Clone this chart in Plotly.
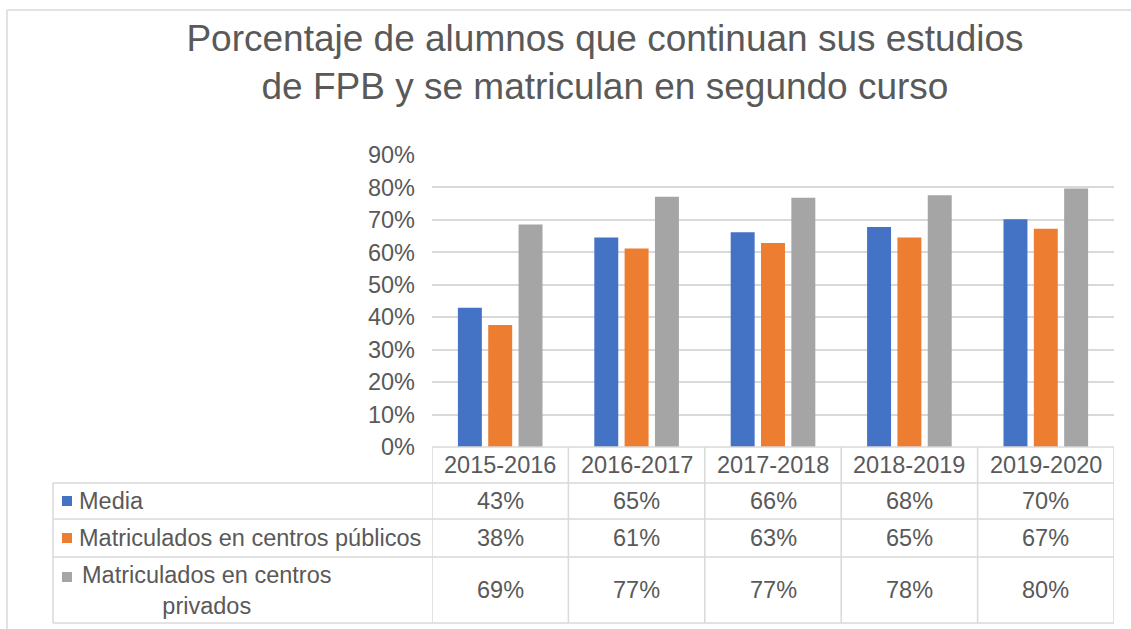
import plotly.graph_objects as go

# ---- data ----
categories = ["2015-2016", "2016-2017", "2017-2018", "2018-2019", "2019-2020"]
series_names = ["Media", "Matriculados en centros públicos", "Matriculados en centros privados"]
media = [0.429, 0.646, 0.662, 0.678, 0.702]
publicos = [0.376, 0.612, 0.629, 0.646, 0.673]
privados = [0.686, 0.771, 0.768, 0.776, 0.797]
series_values = [media, publicos, privados]
colors = ["#4472C4", "#ED7D31", "#A5A5A5"]
y_ticks = [0, 0.1, 0.2, 0.3, 0.4, 0.5, 0.6, 0.7, 0.8, 0.9]
title_lines = ["Porcentaje de alumnos que continuan sus estudios",
               "de FPB y se matriculan en segundo curso"]

W, H = 1131, 629
FONT = "Liberation Sans, Arial, sans-serif"
TXT = "#595959"
LINE = "#D9D9D9"
FS = 23.5


def px(x):
    return x / W


def py(y):
    return 1 - y / H


fig = go.Figure()
for name, vals, col in zip(series_names, series_values, colors):
    fig.add_trace(go.Bar(x=categories, y=vals, name=name, marker_color=col,
                         marker_line_width=0))

plot_left, plot_right = 432, 1114
plot_bottom, plot_top = 447, 155
row_edges = [483, 519, 557, 623]
row_centers = [501, 538, 590]

shapes = []
# outer chart border (top/left)
shapes.append(dict(type="line", xref="paper", yref="paper", x0=px(7), x1=px(7),
                   y0=py(10), y1=0, line=dict(color=LINE, width=1.5)))
shapes.append(dict(type="line", xref="paper", yref="paper", x0=px(7), x1=1,
                   y0=py(10), y1=py(10), line=dict(color=LINE, width=1.5)))
# table horizontal lines
shapes.append(dict(type="line", xref="paper", yref="paper", x0=px(plot_left), x1=px(plot_right),
                   y0=py(plot_bottom), y1=py(plot_bottom), line=dict(color=LINE, width=1.5)))
for ry in row_edges:
    shapes.append(dict(type="line", xref="paper", yref="paper", x0=px(53), x1=px(plot_right),
                       y0=py(ry), y1=py(ry), line=dict(color=LINE, width=1.5)))
# table vertical lines
for i in range(len(categories) + 1):
    shapes.append(dict(type="line", xref="x", yref="paper", x0=i - 0.5, x1=i - 0.5,
                       y0=py(plot_bottom), y1=py(row_edges[-1]), line=dict(color=LINE, width=1.5)))
shapes.append(dict(type="line", xref="paper", yref="paper", x0=px(53), x1=px(53),
                   y0=py(row_edges[0]), y1=py(row_edges[-1]), line=dict(color=LINE, width=1.5)))

annotations = []
# header
for c in categories:
    annotations.append(dict(x=c, xref="x", y=py((plot_bottom + row_edges[0]) / 2), yref="paper",
                            text=c, showarrow=False, xanchor="center", yanchor="middle",
                            font=dict(family=FONT, size=FS, color=TXT)))
# rows
key_y = [501, 538, 577]
for r, (name, vals, col) in enumerate(zip(series_names, series_values, colors)):
    shapes.append(dict(type="rect", xref="paper", yref="paper", x0=px(62), x1=px(72),
                       y0=py(key_y[r] - 5), y1=py(key_y[r] + 5), fillcolor=col, line=dict(width=0)))
    if r == 2:
        label = name.replace("centros privados", "centros<br>privados")
        annotations.append(dict(x=px(206), xref="paper", y=py(row_centers[r]), yref="paper",
                                text=label, showarrow=False, xanchor="center", yanchor="middle",
                                align="center", font=dict(family=FONT, size=FS, color=TXT)))
    else:
        annotations.append(dict(x=px(77), xref="paper", y=py(row_centers[r]), yref="paper",
                                text=name, showarrow=False, xanchor="left", yanchor="middle",
                                font=dict(family=FONT, size=FS, color=TXT)))
    for c, v in zip(categories, vals):
        annotations.append(dict(x=c, xref="x", y=py(row_centers[r]), yref="paper",
                                text=f"{round(v * 100)}%", showarrow=False,
                                xanchor="center", yanchor="middle",
                                font=dict(family=FONT, size=FS, color=TXT)))

fig.update_layout(
    width=W, height=H, autosize=False,
    margin=dict(l=0, r=0, t=0, b=0, pad=0),
    paper_bgcolor="white", plot_bgcolor="white",
    showlegend=False,
    barmode="group", bargap=0.333, bargroupgap=0.21,
    title=dict(text="<br>".join(title_lines), x=px(605), xanchor="center",
               y=py(51), yanchor="middle", yref="container", automargin=False,
               font=dict(family=FONT, size=37, color=TXT)),
    xaxis=dict(domain=[px(plot_left), px(plot_right)], range=[-0.5, len(categories) - 0.5],
               showticklabels=False, showgrid=False, showline=False, zeroline=False,
               automargin=False),
    yaxis=dict(domain=[py(plot_bottom), py(plot_top)], range=[0, 0.9],
               tickvals=y_ticks, tickformat=".0%", showline=False, zeroline=False,
               gridcolor=LINE, gridwidth=1.5, ticks="", ticklabelstandoff=16,
               automargin=False,
               tickfont=dict(family=FONT, size=FS, color=TXT)),
    shapes=shapes, annotations=annotations,
)

# place the figure at the page origin (no default body margin)
post = ("document.body.style.margin='0';document.body.style.overflow='hidden';"
        "var g=document.getElementById('{plot_id}');g.style.position='fixed';"
        "g.style.left='0px';g.style.top='0px';")

fig.write_html("out.html", post_script=post, config={"displayModeBar": False})
